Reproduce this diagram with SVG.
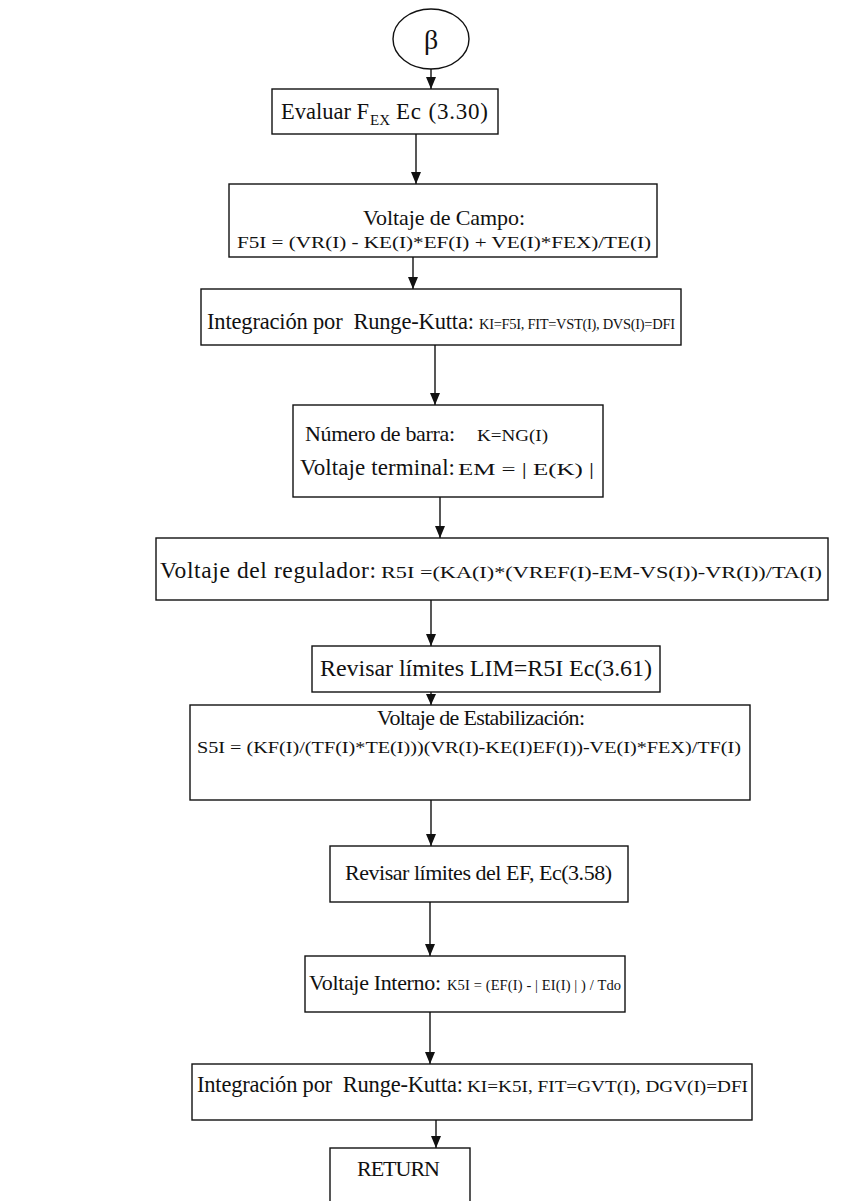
<svg xmlns="http://www.w3.org/2000/svg" width="868" height="1201" viewBox="0 0 868 1201">
  <style>
    .box { fill: #fff; stroke: #111; stroke-width: 1.4; }
    .line { fill: none; stroke: #111; stroke-width: 1.4; }
    .t { font-family: "Liberation Serif", "Times New Roman", serif; font-size: 22px; fill: #111; }
    .f { font-family: "Liberation Serif", "Times New Roman", serif; font-size: 16px; fill: #111; }
  </style>
  <rect width="868" height="1201" fill="#fff"/>

  <!-- flow arrows between consecutive steps -->
  <g id="connectors">
    <path class="line" d="M431,69 V89"/>
    <path class="line" d="M416,134 V184"/>
    <path class="line" d="M413,257 V289"/>
    <path class="line" d="M435,345 V405"/>
    <path class="line" d="M440,497 V538"/>
    <path class="line" d="M431,600 V646"/>
    <path class="line" d="M431,692 V705"/>
    <path class="line" d="M431,800 V846"/>
    <path class="line" d="M430,902 V956"/>
    <path class="line" d="M430,1012 V1064"/>
    <path class="line" d="M436,1120 V1148"/>
    <!-- arrowheads -->
    <g fill="#111">
      <path d="M426,77 L436,77 L431,89 z"/>
      <path d="M411,172 L421,172 L416,184 z"/>
      <path d="M408,277 L418,277 L413,289 z"/>
      <path d="M430,393 L440,393 L435,405 z"/>
      <path d="M435,526 L445,526 L440,538 z"/>
      <path d="M426,634 L436,634 L431,646 z"/>
      <path d="M426,694 L436,694 L431,705 z"/>
      <path d="M426,834 L436,834 L431,846 z"/>
      <path d="M425,944 L435,944 L430,956 z"/>
      <path d="M425,1052 L435,1052 L430,1064 z"/>
      <path d="M431,1136 L441,1136 L436,1148 z"/>
    </g>
  </g>

  <g id="start">
    <ellipse class="box" cx="431" cy="39" rx="38" ry="30"/>
    <text class="t" x="431" y="49" text-anchor="middle" style="font-size:28px">β</text>
  </g>

  <g id="evaluar">
    <rect class="box" x="272" y="89" width="226" height="45"/>
    <text class="t" x="281" y="119" style="font-size:22.5px">Evaluar F</text>
    <text class="t" x="370" y="125" style="font-size:15px">EX</text>
    <text class="t" x="396" y="119" style="font-size:23px" textLength="92">Ec (3.30)</text>
  </g>

  <g id="voltaje-campo">
    <rect class="box" x="229" y="184" width="428" height="73"/>
    <text class="t" x="363" y="225" textLength="162">Voltaje de Campo:</text>
    <text class="f" x="237" y="248" textLength="414" lengthAdjust="spacingAndGlyphs">F5I = (VR(I) - KE(I)*EF(I) + VE(I)*FEX)/TE(I)</text>
  </g>

  <g id="runge-kutta-1">
    <rect class="box" x="201" y="289" width="480" height="56"/>
    <text class="t" x="207" y="329" xml:space="preserve" style="font-size:22.5px" textLength="267">Integración por  Runge-Kutta:</text>
    <text class="f" x="479" y="329" style="font-size:14.5px" textLength="196">KI=F5I, FIT=VST(I), DVS(I)=DFI</text>
  </g>

  <g id="barra">
    <rect class="box" x="293" y="405" width="310" height="92"/>
    <text class="t" x="305" y="441" textLength="150">Número de barra:</text>
    <text class="f" x="477" y="441" textLength="71" lengthAdjust="spacingAndGlyphs">K=NG(I)</text>
    <text class="t" x="300" y="475" style="font-size:23px" textLength="155">Voltaje terminal:</text>
    <text class="f" x="458" y="475" style="font-size:17px" textLength="136" lengthAdjust="spacingAndGlyphs">EM = | E(K) |</text>
  </g>

  <g id="regulador">
    <rect class="box" x="156" y="538" width="672" height="62"/>
    <text class="t" x="160" y="578" style="font-size:23.5px" textLength="216">Voltaje del regulador:</text>
    <text class="f" x="381" y="578" textLength="441" lengthAdjust="spacingAndGlyphs">R5I =(KA(I)*(VREF(I)-EM-VS(I))-VR(I))/TA(I)</text>
  </g>

  <g id="limites-lim">
    <rect class="box" x="312" y="646" width="348" height="46"/>
    <text class="t" x="320" y="676" style="font-size:24px" textLength="332">Revisar límites LIM=R5I Ec(3.61)</text>
  </g>

  <g id="estabilizacion">
    <rect class="box" x="190" y="705" width="560" height="95"/>
    <text class="t" x="377" y="725" textLength="208">Voltaje de Estabilización:</text>
    <text class="f" x="197" y="753" textLength="544" lengthAdjust="spacingAndGlyphs">S5I = (KF(I)/(TF(I)*TE(I)))(VR(I)-KE(I)EF(I))-VE(I)*FEX)/TF(I)</text>
  </g>

  <g id="limites-ef">
    <rect class="box" x="330" y="846" width="298" height="56"/>
    <text class="t" x="345" y="880" textLength="267">Revisar límites del EF, Ec(3.58)</text>
  </g>

  <g id="voltaje-interno">
    <rect class="box" x="305" y="956" width="320" height="56"/>
    <text class="t" x="309" y="990" textLength="132">Voltaje Interno:</text>
    <text class="f" x="447" y="990" style="font-size:14.5px" textLength="174">K5I = (EF(I) - | EI(I) | ) / Tdo</text>
  </g>

  <g id="runge-kutta-2">
    <rect class="box" x="192" y="1064" width="560" height="56"/>
    <text class="t" x="197" y="1092" xml:space="preserve" style="font-size:22.5px" textLength="266">Integración por  Runge-Kutta:</text>
    <text class="f" x="467" y="1092" textLength="281" lengthAdjust="spacingAndGlyphs">KI=K5I, FIT=GVT(I), DGV(I)=DFI</text>
  </g>

  <g id="return">
    <rect class="box" x="330" y="1148" width="140" height="60"/>
    <text class="t" x="357" y="1176" textLength="83">RETURN</text>
  </g>
</svg>
